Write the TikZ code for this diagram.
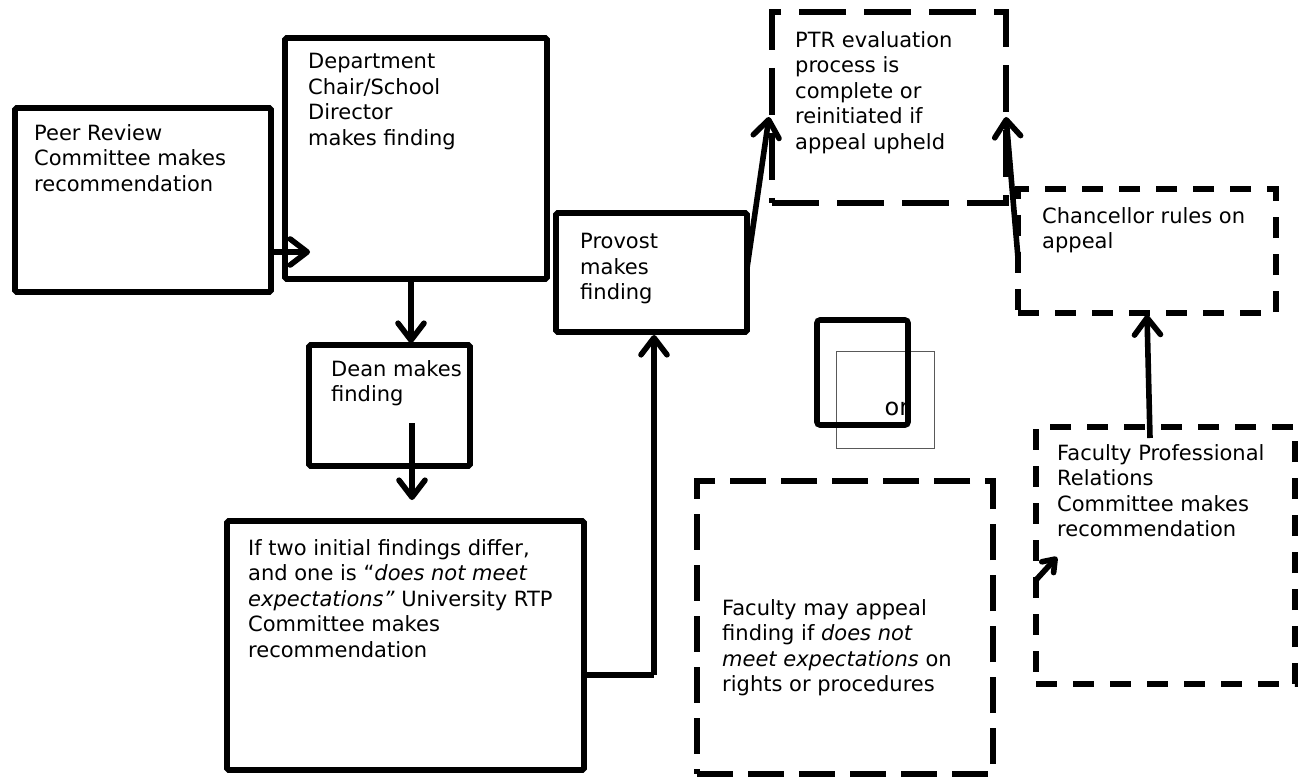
\documentclass[tikz,border=0pt]{standalone}
\usepackage{fontspec}
\setmainfont{DejaVu Sans}
\usetikzlibrary{arrows.meta}
\begin{document}
\begin{tikzpicture}[x=1pt,y=-1pt,
  bx/.style={draw, line width=5.6pt, anchor=north west, inner sep=0pt, outer sep=0pt, rounded corners=1.5pt},
  dbx/.style={draw, line width=5.6pt, anchor=north west, inner sep=0pt, outer sep=0pt, dash pattern=on 21pt off 16pt},
  dlong/.style={draw, line width=5.6pt, anchor=north west, inner sep=0pt, outer sep=0pt, dash pattern=on 47pt off 18pt},
  dmid/.style={draw, line width=5.6pt, anchor=north west, inner sep=0pt, outer sep=0pt, dash pattern=on 36pt off 15pt},
  txt/.style={anchor=north west, inner sep=0pt, align=left, font=\fontsize{21}{25.5}\selectfont},
  arr/.style={line width=5.6pt, -{Straight Barb[length=17pt, width=26pt, round]}},
  sarr/.style={line width=5.6pt, -{Straight Barb[length=11pt, width=16pt, round]}}
]
\path[use as bounding box] (0,0) rectangle (1306,778);

% boxes
\node[bx, minimum width=256pt, minimum height=184pt] (peer) at (15,108) {};
\node[bx, minimum width=262pt, minimum height=241pt] (dept) at (285,38) {};
\node[bx, minimum width=161pt, minimum height=121pt] (dean) at (309,345) {};
\node[bx, minimum width=357pt, minimum height=249pt] (iftwo) at (227,521) {};
\node[bx, minimum width=191pt, minimum height=119pt] (prov) at (556,213) {};
\node[dlong, minimum width=234pt, minimum height=191pt] (ptr) at (772,12) {};
\node[dbx, minimum width=258pt, minimum height=124pt] (chan) at (1018,189) {};
\node[dbx, minimum width=259pt, minimum height=257pt] (fpr) at (1036,427) {};
\node[dmid, minimum width=296pt, minimum height=293pt] (appeal) at (697,481) {};

% "or" squares
\node[draw=black!65, line width=1.3pt, anchor=north west, inner sep=0pt, minimum width=98pt, minimum height=97pt] (sqb) at (836,351) {};
\node[inner sep=0pt, font=\fontsize{24}{26}\selectfont] (ortext) at (897,409) {or};
\node[bx, rounded corners=3pt, minimum width=91pt, minimum height=105pt] (sqa) at (817,320) {};

% texts
\node[txt] (tpeer) at (34,124) {Peer Review\\Committee makes\\recommendation};
\node[txt] (tdept) at (308,53) {Department\\Chair/School\\Director\\makes finding};
\node[txt] (tdean) at (331,360) {Dean makes\\finding};
\node[txt] (tiftwo) at (248,539) {If two initial findings differ,\\and one is “\textit{does not meet}\\\textit{expectations”} University RTP\\Committee makes\\recommendation};
\node[txt] (tprov) at (580,233) {Provost\\makes\\finding};
\node[txt] (tptr) at (795,31) {PTR evaluation\\process is\\complete or\\reinitiated if\\appeal upheld};
\node[txt] (tchan) at (1042,207) {Chancellor rules on\\appeal};
\node[txt] (tfpr) at (1057,444) {Faculty Professional\\Relations\\Committee makes\\recommendation};
\node[txt] (tappeal) at (722,599) {Faculty may appeal\\finding if \textit{does not}\\\textit{meet expectations} on\\rights or procedures};

% connectors
\coordinate (e1) at (310,252);
\draw[arr] (peer.east |- e1) -- (e1);
\coordinate (e2) at (411,343);
\draw[arr] (dept.south -| e2) -- (e2);
\coordinate (s3) at (412,423);
\coordinate (e3) at (412,500);
\draw[arr] (s3) -- (e3);
\coordinate (e4) at (654,335);
\draw[line width=5.6pt] (iftwo.east |- 0,675) -- (654,675) coordinate (k4);
\draw[arr] (k4) -- (e4);
\coordinate (e5) at (769,117);
\draw[arr] (prov.east |- 0,268) -- (e5);
\coordinate (e6) at (1006,117);
\draw[arr] (chan.west |- 0,258) -- (e6);
\coordinate (s7) at (1150,438);
\coordinate (e7) at (1147,315);
\draw[arr] (s7) -- (e7);
\coordinate (e8) at (1057,557);
\draw[sarr] (fpr.west |- 0,580) -- (e8);
\end{tikzpicture}
\end{document}
